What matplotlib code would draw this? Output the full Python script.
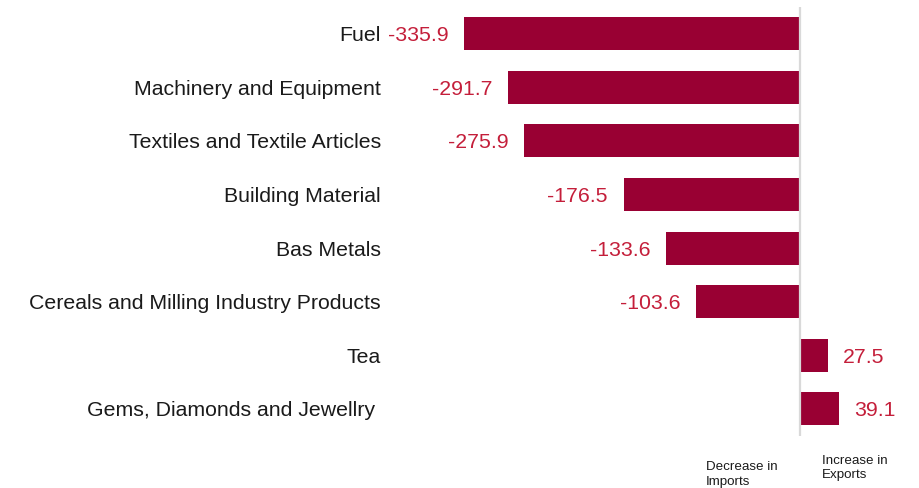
import matplotlib
matplotlib.use("Agg")
import matplotlib.pyplot as plt

categories = [
    "Fuel",
    "Machinery and Equipment",
    "Textiles and Textile Articles",
    "Building Material",
    "Bas Metals",
    "Cereals and Milling Industry Products",
    "Tea",
    "Gems, Diamonds and Jewellry ",
]
values = [-335.9, -291.7, -275.9, -176.5, -133.6, -103.6, 27.5, 39.1]
value_labels = ["-335.9", "-291.7", "-275.9", "-176.5", "-133.6", "-103.6", "27.5", "39.1"]

BAR_COLOR = "#990033"
LABEL_COLOR = "#c41e3a"
TEXT_COLOR = "#1a1a1a"

plt.rcParams["font.family"] = ["Liberation Sans", "DejaVu Sans"]

W, H = 920, 488
fig = plt.figure(figsize=(W / 100, H / 100), dpi=100)
ax_left, ax_right = 385, 920
ax_top, ax_bottom = 7, 435.5
ax = fig.add_axes([ax_left / W, 1 - ax_bottom / H,
                   (ax_right - ax_left) / W, (ax_bottom - ax_top) / H])

pos = list(range(len(categories)))
ax.barh(pos, values, height=0.616, color=BAR_COLOR, zorder=2)
ax.axvline(0, color="#d9d9d9", lw=1.6, zorder=3)

for y, v, lab in zip(pos, values, value_labels):
    if v < 0:
        ax.annotate(lab, (v, y), xytext=(-11.5, 0), textcoords="offset points",
                    ha="right", va="center_baseline", fontsize=15.3, color=LABEL_COLOR)
    else:
        ax.annotate(lab, (v, y), xytext=(11, 0), textcoords="offset points",
                    ha="left", va="center_baseline", fontsize=15.3, color=LABEL_COLOR)

ax.set_xlim(-(800 - ax_left), ax_right - 800)
ax.set_ylim(len(categories) - 0.5, -0.5)
ax.set_yticks(pos)
ax.set_yticklabels(categories, fontsize=15.3, color=TEXT_COLOR)
ax.tick_params(axis="y", length=0, pad=3)
ax.set_xticks([])
for s in ax.spines.values():
    s.set_visible(False)

fig.text(706 / W, 1 - 461.5 / H, "Decrease in\nImports", ha="left", va="top",
         fontsize=9.6, color=TEXT_COLOR, linespacing=1.3)
fig.text(822 / W, 1 - 454.5 / H, "Increase in\nExports", ha="left", va="top",
         fontsize=9.6, color=TEXT_COLOR, linespacing=1.3)

fig.savefig("out.png", dpi=100, facecolor="white")
